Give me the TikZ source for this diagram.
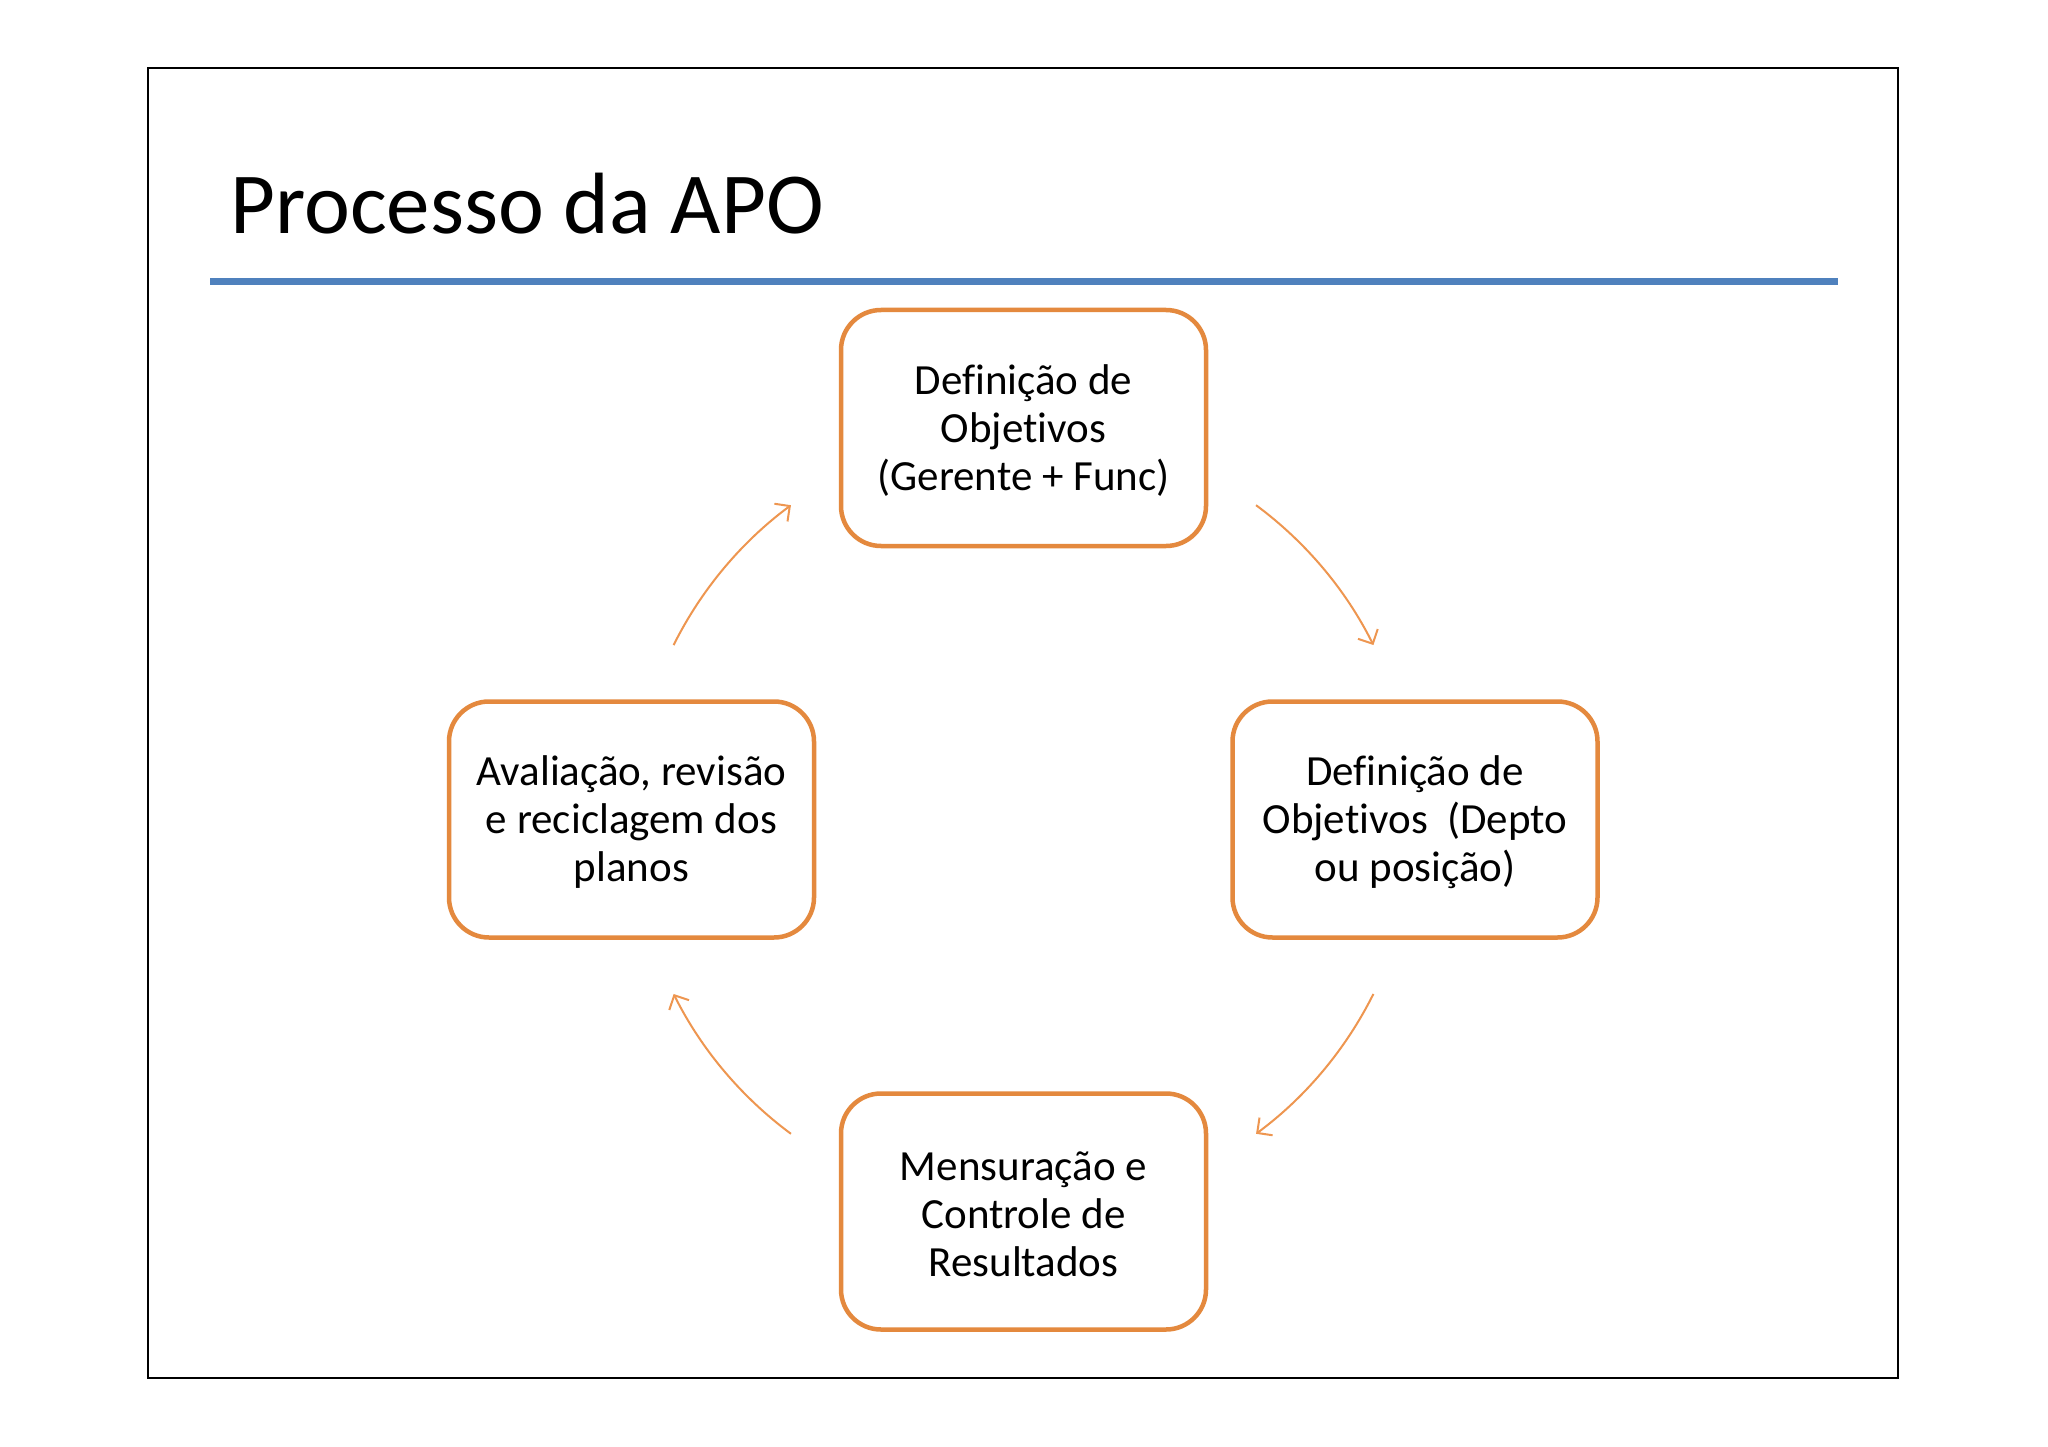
\documentclass[tikz,border=0pt]{standalone}
\usepackage{fontspec}
\setmainfont{Carlito}[Ligatures=NoCommon]
\usetikzlibrary{arrows.meta,calc}
\definecolor{boxorange}{RGB}{228,137,62}
\definecolor{arroworange}{RGB}{238,150,80}
\definecolor{ruleblue}{RGB}{79,129,189}
\newcommand{\firstlinestrut}{\rule{0pt}{35pt}}
\begin{document}
\begin{tikzpicture}[x=1pt,y=1pt,
  stepbox/.style={draw=boxorange, line width=4.5pt, rounded corners=40pt,
    minimum width=365pt, minimum height=236pt, inner sep=0pt,
    align=center, font=\fontsize{43}{48}\selectfont, fill=white},
  cyc/.style={draw=arroworange, line width=2pt,
    -{Straight Barb[length=11pt,width=22pt]}}]
\useasboundingbox (0,0) rectangle (2048,-1447);
\fill[white] (0,0) rectangle (2048,-1447);
\draw[line width=2pt] (148,-68) rectangle (1898,-1378);
\node[anchor=base west, inner sep=0pt, font=\fontsize{87}{100}\selectfont] (title) at (230,-234) {Processo da APO};
\draw[ruleblue, line width=7pt] (210,-282) -- (1838,-282);
\coordinate (c) at (1023.5,-819.5);
\node[stepbox] (top) at (1023.5,-428) {\firstlinestrut Definição de\\Objetivos\\(Gerente + Func)};
\node[stepbox] (right) at (1415,-819.5) {\firstlinestrut Definição de\\Objetivos~ (Depto\\ou posição)};
\node[stepbox] (bottom) at (1023.5,-1211.5) {\firstlinestrut Mensuração e\\Controle de\\Resultados};
\node[stepbox] (left) at (631.5,-819.5) {\firstlinestrut Avaliação, revisão\\e reciclagem dos\\planos};
\draw[cyc] ($(c)+(53.5:391)$) arc[start angle=53.5, end angle=26.5, radius=391];
\draw[cyc] ($(c)+(-26.5:391)$) arc[start angle=-26.5, end angle=-53.5, radius=391];
\draw[cyc] ($(c)+(-126.5:391)$) arc[start angle=-126.5, end angle=-153.5, radius=391];
\draw[cyc] ($(c)+(153.5:391)$) arc[start angle=153.5, end angle=126.5, radius=391];
\end{tikzpicture}
\end{document}
